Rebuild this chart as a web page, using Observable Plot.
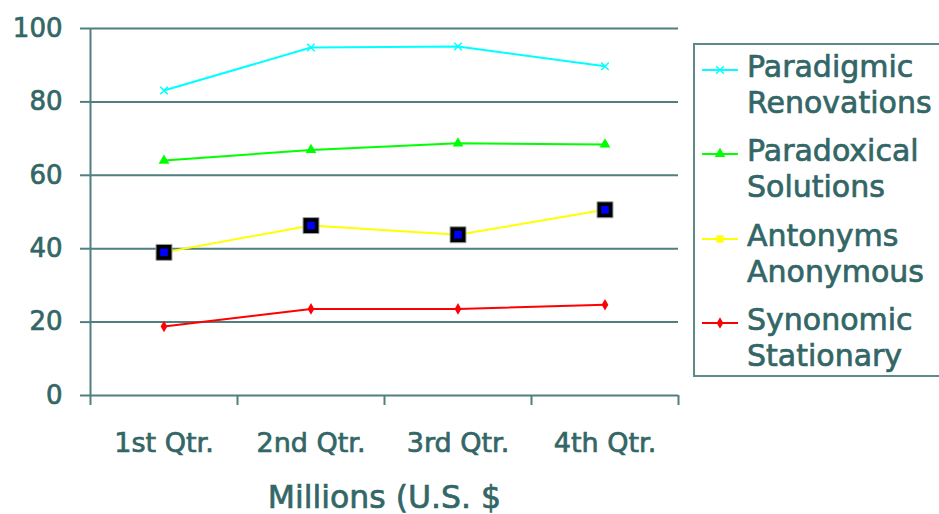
<!DOCTYPE html>
<html>
<head>
<meta charset="utf-8">
<script src="https://cdn.jsdelivr.net/npm/d3@7"></script>
<script src="https://cdn.jsdelivr.net/npm/@observablehq/plot@0.6"></script>
<style>
  body { margin: 0; background: #ffffff; }
  #wrap { position: relative; width: 939px; height: 514px; overflow: hidden; font-family: "DejaVu Sans", sans-serif; }
  #wrap svg text { stroke: #336666; stroke-width: 0.7px; }
  #legend { position: absolute; left: 693px; top: 43px; width: 270px; height: 334px; border: 2px solid #5f8a8a; box-sizing: border-box; padding-top: 4px; }
  .item { position: relative; height: 84.3px; }
  .item svg { position: absolute; left: 7px; top: 11px; }
  .item .lbl { position: absolute; left: 52px; top: 0; font-size: 30px; line-height: 36px; color: #336666; white-space: nowrap; -webkit-text-stroke: 0.7px #336666; }
</style>
</head>
<body>
<div id="wrap"></div>
<script>
// ---- data ----
const quarters = ["1st Qtr.", "2nd Qtr.", "3rd Qtr.", "4th Qtr."];
const seriesNames = ["Paradigmic Renovations", "Paradoxical Solutions", "Antonyms Anonymous", "Synonomic Stationary"];
const legendLines = [["Paradigmic", "Renovations"], ["Paradoxical", "Solutions"], ["Antonyms", "Anonymous"], ["Synonomic", "Stationary"]];
const paradigmic = [83.1, 94.8, 95.1, 89.7];
const paradoxical = [64.0, 66.9, 68.7, 68.4];
const antonyms = [39.0, 46.3, 43.8, 50.6];
const synonomic = [18.8, 23.6, 23.6, 24.7];
const yTicks = [0, 20, 40, 60, 80, 100];
const xLabel = "Millions (U.S. $";

// ---- styles ----
const seriesColors = ["#00ffff", "#00ff00", "#ffff00", "#ff0000"];
const textColor = "#336666";
const lineColor = "#4f7f7f";

const values = [paradigmic, paradoxical, antonyms, synonomic];
const rows = seriesNames.flatMap((s, k) => values[k].map((v, i) => ({series: s, q: i + 0.5, v})));
const bySeries = k => rows.filter(d => d.series === seriesNames[k]);
const boundaries = d3.range(quarters.length + 1);
const centers = quarters.map((_, i) => i + 0.5);

const chart = Plot.plot({
  width: 939,
  height: 514,
  marginLeft: 90,
  marginRight: 261,
  marginTop: 28,
  marginBottom: 119,
  style: {fontFamily: "DejaVu Sans, sans-serif", background: "#ffffff", overflow: "visible"},
  x: {domain: [0, quarters.length]},
  y: {domain: [0, 100]},
  color: {domain: seriesNames, range: seriesColors},
  marks: [
    Plot.ruleY(yTicks, {stroke: lineColor, strokeWidth: 2}),
    Plot.ruleX([0], {y1: 0, y2: 100, stroke: lineColor, strokeWidth: 2}),
    Plot.axisY({ticks: yTicks, tickSize: 10, tickPadding: 18, fontSize: 26, stroke: lineColor, strokeWidth: 2, fill: textColor, label: null}),
    Plot.axisX({ticks: boundaries, tickSize: 10, tickFormat: () => "", stroke: lineColor, strokeWidth: 2, label: null}),
    Plot.axisX({ticks: centers, tickSize: 0, tickPadding: 37, fontSize: 27, fill: textColor, tickFormat: d => quarters[Math.floor(d)], label: null}),
    Plot.text([xLabel], {x: quarters.length / 2, y: 0, dy: 102, fontSize: 31.5, fill: textColor, text: d => d}),
    Plot.line(rows, {x: "q", y: "v", z: "series", stroke: "series", strokeWidth: 2}),
    Plot.dot(bySeries(0), {x: "q", y: "v", symbol: "times", r: 3.5, stroke: seriesColors[0], strokeWidth: 1.5}),
    Plot.dot(bySeries(1), {x: "q", y: "v", symbol: "triangle", r: 4, fill: seriesColors[1]}),
    Plot.dot(bySeries(2), {x: "q", y: "v", symbol: "square", r: 9, fill: "#000000", stroke: "#9aa0a0", strokeWidth: 1}),
    Plot.dot(bySeries(2), {x: "q", y: "v", symbol: "square", r: 4.3, fill: "#0000ff"}),
    Plot.dot(bySeries(3), {x: "q", y: "v", symbol: "diamond", r: 3.5, fill: seriesColors[3]})
  ]
});

const wrap = document.getElementById("wrap");
wrap.appendChild(chart);

// ---- legend ----
const legend = document.createElement("div");
legend.id = "legend";
const symbols = [d3.symbolTimes, d3.symbolTriangle, d3.symbolSquare, d3.symbolDiamond];
const symSizes = [40, 50, 50, 38];
seriesNames.forEach((name, k) => {
  const item = document.createElement("div");
  item.className = "item";
  const svg = d3.create("svg").attr("width", 40).attr("height", 20);
  svg.append("line").attr("x1", 0).attr("x2", 36).attr("y1", 10).attr("y2", 10)
    .attr("stroke", seriesColors[k]).attr("stroke-width", 2);
  const p = svg.append("path").attr("transform", "translate(18,10)")
    .attr("d", d3.symbol(symbols[k], symSizes[k])());
  if (k === 0) p.attr("fill", "none").attr("stroke", seriesColors[k]).attr("stroke-width", 1.5);
  else p.attr("fill", seriesColors[k]);
  item.appendChild(svg.node());
  const lbl = document.createElement("div");
  lbl.className = "lbl";
  lbl.innerHTML = legendLines[k].map(t => `<div>${t}</div>`).join("");
  item.appendChild(lbl);
  legend.appendChild(item);
});
wrap.appendChild(legend);
</script>
</body>
</html>
